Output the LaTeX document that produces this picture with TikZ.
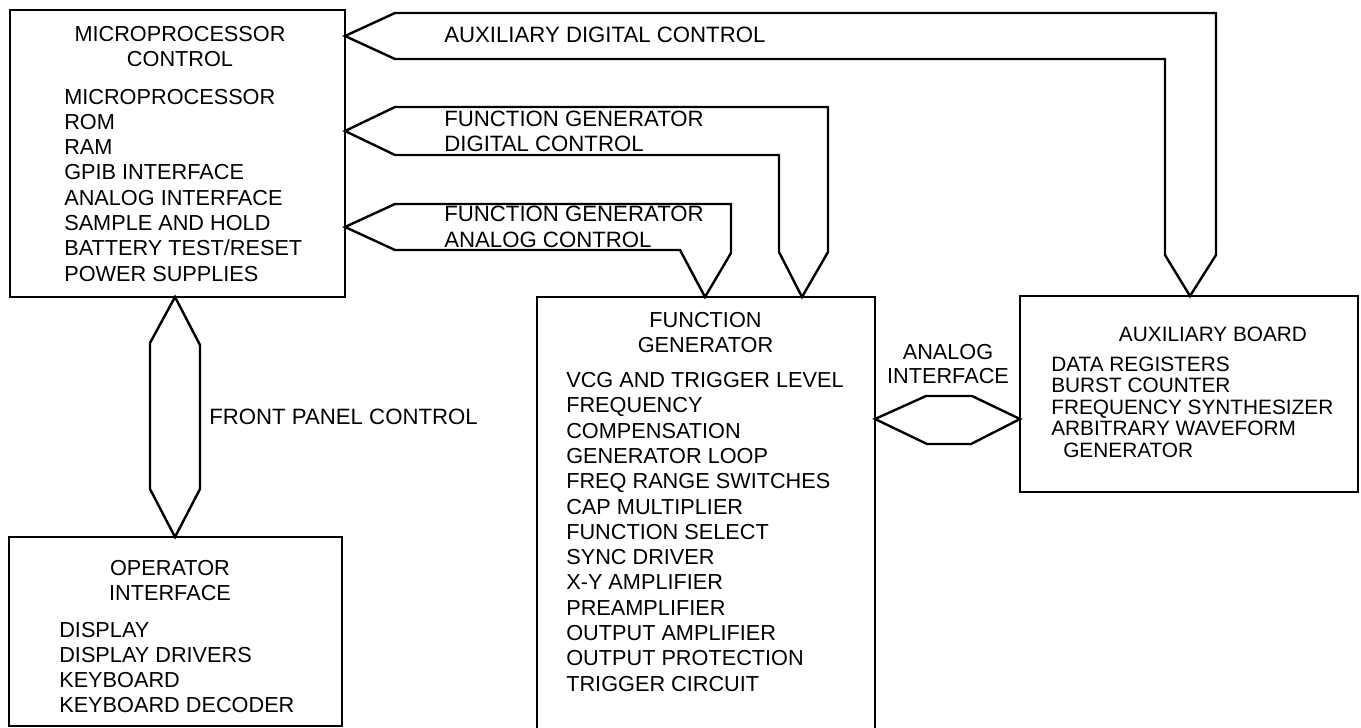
\documentclass[tikz,border=0pt]{standalone}
\usepackage{fontspec}
\setmainfont{Liberation Sans}
\begin{document}
\begin{tikzpicture}[x=1pt,y=-1pt,line width=2.6pt,line join=miter,
  blk/.style={rectangle,inner sep=0pt,outer sep=0pt},
  bus/.style={draw,line width=2.4pt,line join=miter},
  txt/.style={inner sep=0pt,anchor=base west,font=\fontsize{21.7}{25}\selectfont},
  ltxt/.style={inner sep=0pt,anchor=base west,font=\fontsize{22.2}{25}\selectfont},
  ttl/.style={inner sep=0pt,anchor=base,font=\fontsize{21.7}{25}\selectfont},
  atxt/.style={inner sep=0pt,anchor=base west,font=\fontsize{20.8}{22}\selectfont},
  attl/.style={inner sep=0pt,anchor=base,font=\fontsize{20.8}{22}\selectfont}]
\useasboundingbox[fill=white] (0,0) rectangle (1361,728);

% blocks
\node[blk,draw,minimum width=335pt,minimum height=287pt] (mpc) at (177.5,153.5) {};
\node[blk,draw,minimum width=333pt,minimum height=189pt] (opi) at (175.5,631.5) {};
\node[blk,minimum width=338pt,minimum height=434pt] (fg) at (706,514) {};
\draw (fg.south west) |- (fg.north east) -- (fg.south east);
\node[blk,draw,minimum width=338pt,minimum height=196pt] (aux) at (1189,394) {};

% microprocessor control text
\node[ttl] (mpcT1) at (180,41) {MICROPROCESSOR};
\node[ttl] (mpcT2) at (180,66) {CONTROL};
\foreach \t [count=\i] in {MICROPROCESSOR,ROM,RAM,GPIB INTERFACE,ANALOG INTERFACE,SAMPLE AND HOLD,BATTERY TEST/RESET,POWER SUPPLIES}
  \node[txt] (mpc-\i) at (63,{104+25.3*(\i-1)}) {\t};

% operator interface text
\node[ttl] (opiT1) at (170,575) {OPERATOR};
\node[ttl] (opiT2) at (170,600) {INTERFACE};
\foreach \t [count=\i] in {DISPLAY,DISPLAY DRIVERS,KEYBOARD,KEYBOARD DECODER}
  \node[txt] (opi-\i) at (58,{637+25.3*(\i-1)}) {\t};

% function generator text
\node[ttl] (fgT1) at (705.5,327.5) {FUNCTION};
\node[ttl] (fgT2) at (705.5,352) {GENERATOR};
\foreach \t [count=\i] in {VCG AND TRIGGER LEVEL,FREQUENCY,COMPENSATION,GENERATOR LOOP,FREQ RANGE SWITCHES,CAP MULTIPLIER,FUNCTION SELECT,SYNC DRIVER,X-Y AMPLIFIER,PREAMPLIFIER,OUTPUT AMPLIFIER,OUTPUT PROTECTION,TRIGGER CIRCUIT}
  \node[txt] (fg-\i) at (565,{387.7+25.28*(\i-1)}) {\t};

% auxiliary board text
\node[attl] (auxT) at (1213,341) {AUXILIARY BOARD};
\foreach \t [count=\i] in {DATA REGISTERS,BURST COUNTER,FREQUENCY SYNTHESIZER,ARBITRARY WAVEFORM}
  \node[atxt] (aux-\i) at (1050,{371+21.5*(\i-1)}) {\t};
\node[atxt] (aux-5) at (1062,457) {GENERATOR};

% bus end points on the blocks
\path (mpc.north east) ++(0,26) coordinate (adc0);
\path (mpc.north east) ++(0,121) coordinate (fgd0);
\path (mpc.north east) ++(0,217) coordinate (fga0);
\path (aux.north west) ++(170,0) coordinate (adc1);
\path (fg.north west) ++(265,0) coordinate (fgd1);
\path (fg.north west) ++(168,0) coordinate (fga1);
\path (mpc.south west) ++(165,0) coordinate (fp0);
\path (opi.north west) ++(166,0) coordinate (fp1);
\path (fg.north east) ++(0,122) coordinate (ai0);
\path (aux.north west) ++(0,123) coordinate (ai1);

% buses
\draw[bus] (adc0) -- (395,13) -- (1216,13) -- (1216,255) -- (adc1) -- (1165,255) -- (1165,59) -- (395,59) -- cycle;
\draw[bus] (fgd0) -- (395,107) -- (828,107) -- (828,252) -- (fgd1) -- (779,252) -- (779,155) -- (395,155) -- cycle;
\draw[bus] (fga0) -- (395,204) -- (731,204) -- (731,253) -- (fga1) -- (680,250) -- (395,250) -- cycle;
\draw[bus] (fp0) -- (200,345) -- (200,489) -- (fp1) -- (150,489) -- (150,343) -- cycle;
\draw[bus] (ai0) -- (926,396) -- (972,396) -- (ai1) -- (971,444) -- (927,444) -- cycle;

% bus labels
\node[ltxt] (lADC) at (443,42.7) {AUXILIARY DIGITAL CONTROL};
\node[ltxt] (lFGD1) at (443,126) {FUNCTION GENERATOR};
\node[ltxt] (lFGD2) at (443,151.7) {DIGITAL CONTROL};
\node[ltxt] (lFGA1) at (443,221) {FUNCTION GENERATOR};
\node[ltxt] (lFGA2) at (443,247) {ANALOG CONTROL};
\node[ltxt] (lFP) at (208,424.4) {FRONT PANEL CONTROL};
\node[ttl] (lAI1) at (948,359) {ANALOG};
\node[ttl] (lAI2) at (948,383.5) {INTERFACE};
\end{tikzpicture}
\end{document}
